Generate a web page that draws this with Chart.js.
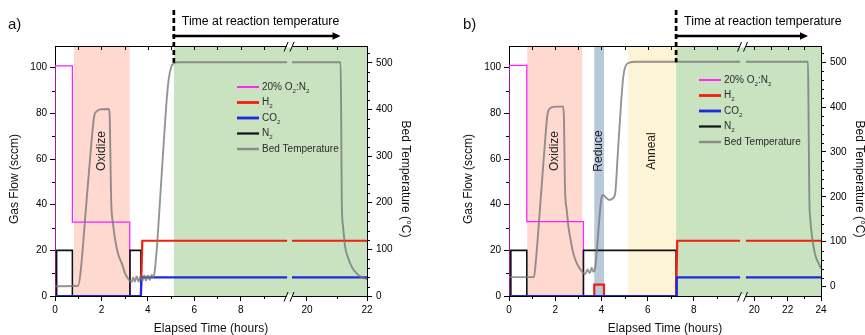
<!DOCTYPE html>
<html>
<head>
<meta charset="utf-8">
<script src="https://cdn.jsdelivr.net/npm/chart.js@4.4.0/dist/chart.umd.min.js"></script>
<style>
  html, body { margin: 0; padding: 0; background: #fff; }
  #wrap { position: relative; width: 865px; height: 335px; overflow: hidden; }
  #wrap canvas { position: absolute; top: 0; width: 454px; height: 335px; }
  #cA { left: 0; }
  #cB { left: 454px; }
</style>
</head>
<body>
<div id="wrap">
  <canvas id="cA" width="454" height="335"></canvas>
  <canvas id="cB" width="454" height="335"></canvas>
</div>
<script>
// ---- data (time in hours, flow in sccm, temperature in degC) ----
const seriesLabels = ['20% O₂:N₂', 'H₂', 'CO₂', 'N₂', 'Bed Temperature'];
const flowTicks = [0, 20, 40, 60, 80, 100];
const flowMinor = [10, 30, 50, 70, 90];
const tempTicks = [0, 100, 200, 300, 400, 500];
const tempMinor = [20, 40, 60, 80, 120, 140, 160, 180, 220, 240, 260, 280, 320, 340, 360, 380, 420, 440, 460, 480, 520];

// panel a
const xMajorA = [0, 2, 4, 6, 8, 20, 22];
const xMinorA = [1, 3, 5, 7, 9, 21];
const o2A = [[0, 0], [0, 100.8], [0.75, 100.8], [0.75, 32.4], [3.22, 32.4], [3.22, 0]];
const h2A = [[3.7, 0], [3.76, 24.2], [10, 24.2], null, [19.5, 24.2], [22, 24.2]];
const co2A = [[0, 0], [3.7, 0], [3.72, 8.2], [10, 8.2], null, [19.5, 8.2], [22, 8.2]];
const n2A = [[0, 0], [0.07, 0], [0.07, 20], [0.75, 20], [0.75, 0], [3.23, 0], [3.23, 20], [3.7, 20], [3.7, 0]];
const tempA = [[0, 21], [1.0, 22], [1.1, 50], [1.34, 192], [1.58, 335], [1.69, 386], [1.8, 396], [1.94, 400],
  [2.33, 401], [2.36, 380], [2.39, 290], [2.42, 206], [2.5, 155], [2.59, 121], [2.72, 90], [2.87, 71],
  [3.05, 45], [3.22, 33], [3.3, 30], [3.37, 40], [3.44, 31], [3.52, 42], [3.6, 31], [3.68, 43], [3.76, 32],
  [3.84, 44], [3.92, 33], [4.0, 44], [4.08, 34], [4.16, 45], [4.24, 40], [4.3, 55], [4.4, 110], [4.55, 225],
  [4.7, 340], [4.82, 425], [4.9, 465], [5.0, 490], [5.12, 499], [5.3, 501], [10, 501], null,
  [19.5, 501], [21.12, 501], [21.14, 380], [21.16, 200], [21.2, 150], [21.27, 106], [21.38, 80],
  [21.49, 63], [21.63, 50], [21.77, 42], [22, 36]];
const bandsA = [[0.82, 3.22], [5.12, 22]];
const bandNamesA = ['Oxidize', ''];

// panel b
const xMajorB = [0, 2, 4, 6, 8, 20, 22, 24];
const xMinorB = [1, 3, 5, 7, 9, 21, 23];
const o2B = [[0, 0], [0, 101], [0.77, 101], [0.77, 32.6], [3.22, 32.6], [3.22, 0]];
const h2B = [[3.69, 0], [3.69, 5], [4.11, 5], [4.11, 0], null, [7.23, 0], [7.28, 24.2], [10, 24.2], null, [19.5, 24.2], [24, 24.2]];
const co2B = [[0, 0], [7.23, 0], [7.26, 8.2], [10, 8.2], null, [19.5, 8.2], [24, 8.2]];
const n2B = [[0, 0], [0.08, 0], [0.08, 20], [0.77, 20], [0.77, 0], [3.22, 0], [3.22, 20], [7.23, 20], [7.23, 0]];
const tempB = [[0, 21], [1.08, 21], [1.15, 50], [1.4, 215], [1.6, 350], [1.66, 382], [1.77, 397], [2.0, 401],
  [2.35, 401], [2.38, 370], [2.42, 223], [2.5, 170], [2.57, 134], [2.68, 100], [2.78, 74], [2.95, 50],
  [3.2, 31], [3.3, 28], [3.4, 38], [3.45, 33], [3.5, 30], [3.58, 42], [3.65, 33], [3.73, 42], [3.8, 80],
  [3.87, 126], [3.95, 175], [4.01, 200], [4.07, 204], [4.2, 198], [4.35, 193], [4.5, 197], [4.6, 210],
  [4.7, 290], [4.85, 410], [4.95, 470], [5.05, 492], [5.2, 499], [5.5, 501], [10, 501], null,
  [19.5, 501], [23.22, 501], [23.25, 400], [23.3, 200], [23.36, 150], [23.45, 115], [23.55, 89],
  [23.7, 65], [23.85, 52], [24, 41]];
const bandsB = [[0.79, 3.17], [3.69, 4.11], [5.15, 7.23], [7.23, 24]];
const bandNamesB = ['Oxidize', 'Reduce', 'Anneal', ''];

// ---- styling ----
const FONT = '"Liberation Sans", Arial, Helvetica, sans-serif';
const lineColors = ['#ff1fff', '#f0200f', '#1c2be0', '#111111', 'rgba(118,118,118,0.78)'];
const lineWidths = [1.3, 2.2, 2.2, 1.6, 1.9];
const lineOrder = [4, 2, 1, 3, 0];

Chart.defaults.font.family = FONT;
Chart.defaults.color = '#000';

function drawSub(ctx, text, x, y, size) {
  const parts = text.split('₂');
  ctx.textAlign = 'left';
  ctx.textBaseline = 'middle';
  parts.forEach((p, i) => {
    ctx.font = size + 'px ' + FONT;
    ctx.fillText(p, x, y);
    x += ctx.measureText(p).width;
    if (i < parts.length - 1) {
      ctx.font = (size * 0.62) + 'px ' + FONT;
      ctx.fillText('2', x, y + size * 0.42);
      x += ctx.measureText('2').width;
    }
  });
}

function line(ctx, x0, y0, x1, y1) {
  ctx.beginPath();
  ctx.moveTo(x0, y0);
  ctx.lineTo(x1, y1);
  ctx.stroke();
}

function panelPlugin(spec, tx) {
  return {
    id: 'panel' + spec.tag,
    beforeDraw(chart) {
      const { ctx, chartArea: a, scales: { x, y } } = chart;
      ctx.save();
      spec.bands.forEach((b, i) => {
        const x0 = x.getPixelForValue(tx(b[0]));
        const x1 = x.getPixelForValue(tx(b[1]));
        ctx.fillStyle = spec.bandColors[i];
        ctx.fillRect(x0, a.top, x1 - x0, a.bottom - a.top);
        if (spec.bandNames[i]) {
          ctx.save();
          ctx.translate((x0 + x1) / 2, y.getPixelForValue(63.5));
          ctx.rotate(-Math.PI / 2);
          ctx.font = '12px ' + FONT;
          ctx.fillStyle = '#222';
          ctx.textAlign = 'center';
          ctx.textBaseline = 'middle';
          ctx.fillText(spec.bandNames[i], 0, 0);
          ctx.restore();
        }
      });
      ctx.restore();
    },
    afterDraw(chart) {
      const { ctx, chartArea: a, scales: { x, y, y2 } } = chart;
      ctx.save();
      ctx.strokeStyle = '#000';
      ctx.fillStyle = '#000';
      ctx.lineWidth = 1;

      // top frame and ticks
      line(ctx, a.left, a.top + 0.5, a.right, a.top + 0.5);
      spec.xMajor.concat(spec.xMinor).forEach(h => {
        const px = Math.round(x.getPixelForValue(tx(h))) + 0.5;
        if (px > a.left + 1 && px < a.right - 1) line(ctx, px, a.top, px, a.top + 4);
      });
      // minor ticks
      spec.xMinor.forEach(h => {
        const px = Math.round(x.getPixelForValue(tx(h))) + 0.5;
        line(ctx, px, a.bottom, px, a.bottom + 3);
      });
      flowMinor.forEach(v => {
        const py = Math.round(y.getPixelForValue(v)) + 0.5;
        line(ctx, a.left - 3, py, a.left, py);
      });
      tempMinor.forEach(v => {
        const py = Math.round(y2.getPixelForValue(v)) + 0.5;
        if (py > a.top && py < a.bottom) line(ctx, a.right, py, a.right + 3, py);
      });

      // axis break marks
      const xb = x.getPixelForValue((spec.brk[0] + spec.brk[2]) / 2);
      [a.top, a.bottom].forEach(y0 => {
        ctx.fillStyle = '#fff';
        ctx.fillRect(xb - 3, y0 - 1.5, 6, 3);
        ctx.strokeStyle = '#000';
        line(ctx, xb - 5.5, y0 + 5.5, xb - 1.5, y0 - 4);
        line(ctx, xb + 0.5, y0 + 5.5, xb + 4.5, y0 - 4);
      });

      // reaction temperature marker
      const xr = x.getPixelForValue(tx(spec.reactStart));
      const xe = x.getPixelForValue(tx(spec.reactEnd));
      ctx.strokeStyle = '#000';
      ctx.fillStyle = '#000';
      ctx.lineWidth = 2.7;
      ctx.setLineDash([5, 3]);
      line(ctx, xr, 10, xr, y2.getPixelForValue(500));
      ctx.setLineDash([]);
      ctx.lineWidth = 2.5;
      line(ctx, xr - 1.2, 36, xe - 6, 36);
      ctx.beginPath();
      ctx.moveTo(xe, 36);
      ctx.lineTo(xe - 8, 32.3);
      ctx.lineTo(xe - 8, 39.7);
      ctx.closePath();
      ctx.fill();
      ctx.font = '12.3px ' + FONT;
      ctx.textAlign = 'left';
      ctx.textBaseline = 'alphabetic';
      ctx.fillText('Time at reaction temperature', xr + 8, 25);

      // legend
      chart.data.datasets.forEach((ds, i) => {
        const ly = a.top + spec.legend[1] + i * 15.5;
        const lx = a.left + spec.legend[0];
        ctx.strokeStyle = ds.borderColor;
        ctx.lineWidth = ds.borderWidth + 0.6;
        line(ctx, lx, ly, lx + 22, ly);
        ctx.fillStyle = '#2b2b2b';
        drawSub(ctx, ds.label, lx + 25, ly, 10);
      });

      // axis titles and panel label
      ctx.fillStyle = '#111';
      ctx.font = '12px ' + FONT;
      ctx.textAlign = 'center';
      ctx.textBaseline = 'middle';
      ctx.fillText('Elapsed Time (hours)', (a.left + a.right) / 2, 329);
      ctx.save();
      ctx.translate(a.left - 40, a.top + 133);
      ctx.rotate(-Math.PI / 2);
      ctx.fillText('Gas Flow (sccm)', 0, 0);
      ctx.restore();
      ctx.save();
      ctx.translate(a.right + 38, a.top + 133);
      ctx.rotate(Math.PI / 2);
      ctx.fillText('Bed Temperature (°C)', 0, 0);
      ctx.restore();
      ctx.font = '15px ' + FONT;
      ctx.textAlign = 'left';
      ctx.fillText(spec.tag + ')', spec.tagX, 25);
      ctx.restore();
    }
  };
}

function buildPanel(canvasId, spec) {
  const tx = t => t <= spec.brk[0] ? t : spec.brk[2] + (t - spec.brk[1]) * spec.brk[3];
  const pts = pairs => {
    let lastX = 0;
    return pairs.map(p => {
      if (p === null) return { x: lastX, y: null };
      lastX = tx(p[0]);
      return { x: lastX, y: p[1] };
    });
  };
  const seriesData = [spec.o2, spec.h2, spec.co2, spec.n2, spec.temp];
  const datasets = seriesData.map((d, i) => ({
    label: seriesLabels[i],
    data: pts(d),
    borderColor: lineColors[i],
    borderWidth: lineWidths[i],
    order: lineOrder[i],
    yAxisID: i === 4 ? 'y2' : 'y',
    cubicInterpolationMode: i === 4 ? 'monotone' : 'default',
    pointRadius: 0,
    fill: false,
    spanGaps: false
  }));
  const axisGrid = { drawOnChartArea: false, tickLength: 5, color: '#000' };
  const axisBorder = { display: true, color: '#000', width: 1 };
  const tickFont = { size: 10 };

  return new Chart(document.getElementById(canvasId), {
    type: 'line',
    data: { datasets },
    options: {
      responsive: false,
      animation: false,
      events: [],
      layout: { padding: { top: 46, left: 0, right: 0, bottom: 0 } },
      plugins: { legend: { display: false }, tooltip: { enabled: false } },
      scales: {
        x: {
          type: 'linear', min: 0, max: tx(spec.xMajor[spec.xMajor.length - 1]),
          afterBuildTicks: s => { s.ticks = spec.xMajor.map(h => ({ value: tx(h) })); },
          afterFit: s => { s.height = 39; },
          ticks: { autoSkip: false, maxRotation: 0, padding: 3, font: tickFont, color: '#000',
                   callback: (v, i) => spec.xMajor[i] },
          grid: axisGrid, border: axisBorder
        },
        y: {
          position: 'left', min: 0, max: 109.5,
          afterBuildTicks: s => { s.ticks = flowTicks.map(v => ({ value: v })); },
          afterFit: s => { s.width = 55; },
          ticks: { padding: 3, font: tickFont, color: '#000' },
          grid: axisGrid, border: axisBorder
        },
        y2: {
          position: 'right', min: spec.tempMin, max: 536,
          afterBuildTicks: s => { s.ticks = tempTicks.map(v => ({ value: v })); },
          afterFit: s => { s.width = 87; },
          ticks: { padding: 4, font: tickFont, color: '#000' },
          grid: axisGrid, border: axisBorder
        }
      }
    },
    plugins: [panelPlugin(spec, tx)]
  });
}

buildPanel('cA', {
  tag: 'a', tagX: 8,
  o2: o2A, h2: h2A, co2: co2A, n2: n2A, temp: tempA,
  xMajor: xMajorA, xMinor: xMinorA,
  brk: [10, 19.5, 10.21, 1.293],
  tempMin: 0,
  bands: bandsA, bandNames: bandNamesA,
  bandColors: ['#fdd9cf', '#c9e3c1'],
  reactStart: 5.12, reactEnd: 21.12,
  legend: [182, 41]
});

buildPanel('cB', {
  tag: 'b', tagX: 9,
  o2: o2B, h2: h2B, co2: co2B, n2: n2B, temp: tempB,
  xMajor: xMajorB, xMinor: xMinorB,
  brk: [10, 19.5, 10.25, 0.722],
  tempMin: -21,
  bands: bandsB, bandNames: bandNamesB,
  bandColors: ['#fdd9cf', '#b9c9dc', '#fdf3d7', '#c9e3c1'],
  reactStart: 7.23, reactEnd: 23.22,
  legend: [190, 34]
});
</script>
</body>
</html>
